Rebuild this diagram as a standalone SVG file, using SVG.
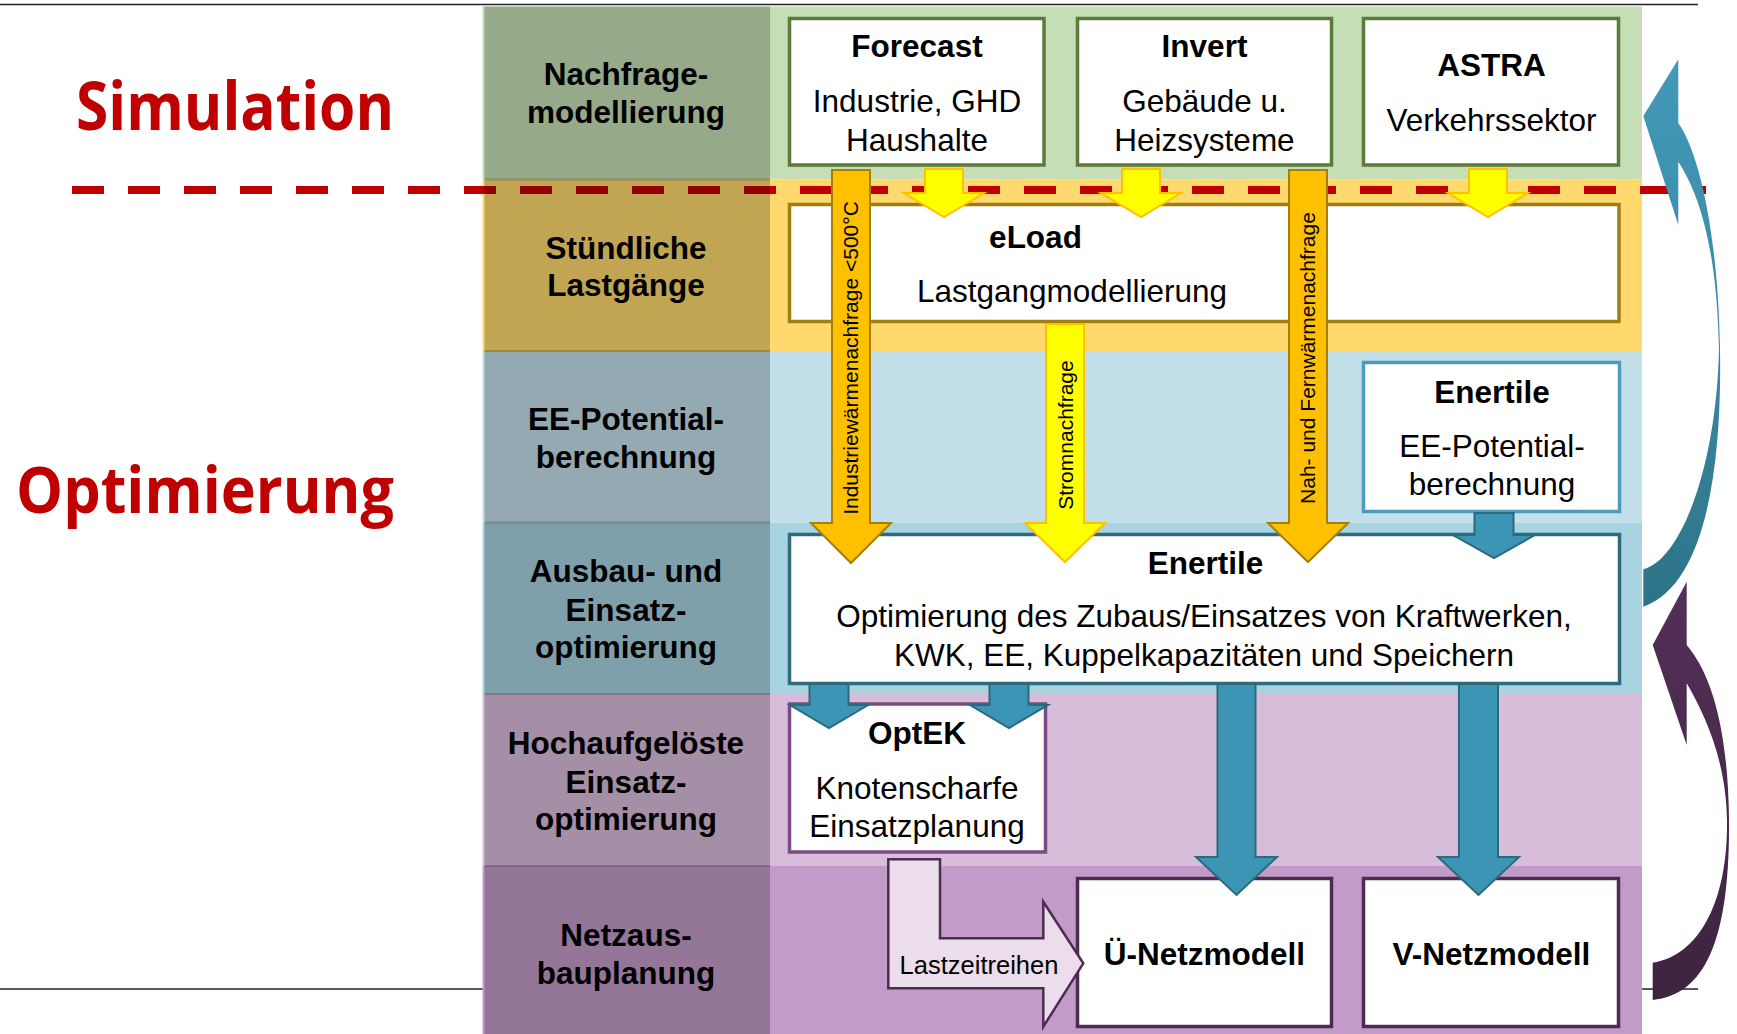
<svg xmlns="http://www.w3.org/2000/svg" width="1737" height="1034" viewBox="0 0 1737 1034">
<defs>
<style>
.lbl{font-family:"Liberation Sans",Arial,sans-serif;font-weight:bold;font-size:31.5px;text-anchor:middle;fill:#000}
.t{font-family:"Liberation Sans",Arial,sans-serif;font-size:31.5px;text-anchor:middle;fill:#000}
.tb{font-family:"Liberation Sans",Arial,sans-serif;font-size:31.5px;font-weight:bold;text-anchor:middle;fill:#000}
.vt{font-family:"Liberation Sans",Arial,sans-serif;font-size:21px;text-anchor:middle;fill:#000}
.lz{font-family:"Liberation Sans",Arial,sans-serif;font-size:25.5px;text-anchor:middle;fill:#000}
.big{font-family:"Open Sans","Noto Sans",sans-serif;font-weight:bold;fill:#C00000}
.box{fill:#fff;stroke-width:3.5}
.sg{stroke:#5B7B3B}
.sy{stroke:#A07F12}
.sb{stroke:#4B9CBD}
.st{stroke:#2F6B7C}
.sp{stroke:#7A4C83}
.sd{stroke:#4D2C52}
.ya{fill:#FFFF00;stroke:#FFC000;stroke-width:2}
.oa{fill:#FFC000;stroke:#A47F0C;stroke-width:2}
.ba{fill:#3C95B4;stroke:#2C6A7B;stroke-width:2}
.sep{stroke:#000;stroke-opacity:0.18;stroke-width:2}
</style>
<linearGradient id="gBlue" x1="0" y1="59" x2="0" y2="607" gradientUnits="userSpaceOnUse">
<stop offset="0" stop-color="#4399B9"/>
<stop offset="0.5" stop-color="#3A8AA6"/>
<stop offset="1" stop-color="#2E7386"/>
</linearGradient>
<linearGradient id="gPurple" x1="0" y1="581" x2="0" y2="1000" gradientUnits="userSpaceOnUse">
<stop offset="0" stop-color="#542F59"/>
<stop offset="1" stop-color="#3D243F"/>
</linearGradient>
</defs>

<!-- frame lines -->
<g id="frame">
<line x1="0" y1="4.5" x2="1698" y2="4.5" stroke="#222" stroke-width="1.5"/>
<line x1="0" y1="989" x2="1698" y2="989" stroke="#222" stroke-width="1.5"/>
</g>

<!-- row bands -->
<g id="bands">
<rect x="482.5" y="6.5" width="1159.5" height="173" fill="#C5DEB5"/>
<rect x="482.5" y="179.5" width="1159.5" height="171.5" fill="#FFD96D"/>
<rect x="482.5" y="351" width="1159.5" height="171.5" fill="#C3DFEA"/>
<rect x="482.5" y="522.5" width="1159.5" height="171.5" fill="#A8D3E0"/>
<rect x="482.5" y="694" width="1159.5" height="172" fill="#D8BDDB"/>
<rect x="482.5" y="866" width="1159.5" height="168" fill="#C39BC8"/>
</g>

<!-- dashed separator -->
<line id="divider" x1="72" y1="190" x2="1706" y2="190" stroke="#C00000" stroke-width="8" stroke-dasharray="32 24"/>

<!-- label column overlay -->
<g id="label-column">
<rect x="484.5" y="6.5" width="285.5" height="1027.5" fill="#000" fill-opacity="0.24"/>
<line class="sep" x1="484.5" y1="179.5" x2="770" y2="179.5"/>
<line class="sep" x1="484.5" y1="351" x2="770" y2="351"/>
<line class="sep" x1="484.5" y1="522.5" x2="770" y2="522.5"/>
<line class="sep" x1="484.5" y1="694" x2="770" y2="694"/>
<line class="sep" x1="484.5" y1="866" x2="770" y2="866"/>
</g>

<g id="row-labels">
<g id="lbl-nachfrage"><text class="lbl" x="626" y="85">Nachfrage-</text><text class="lbl" x="626" y="123">modellierung</text></g>
<g id="lbl-lastgaenge"><text class="lbl" x="626" y="259">Stündliche</text><text class="lbl" x="626" y="296">Lastgänge</text></g>
<g id="lbl-ee"><text class="lbl" x="626" y="430">EE-Potential-</text><text class="lbl" x="626" y="468">berechnung</text></g>
<g id="lbl-ausbau"><text class="lbl" x="626" y="582">Ausbau- und</text><text class="lbl" x="626" y="621">Einsatz-</text><text class="lbl" x="626" y="658">optimierung</text></g>
<g id="lbl-hoch"><text class="lbl" x="626" y="754">Hochaufgelöste</text><text class="lbl" x="626" y="793">Einsatz-</text><text class="lbl" x="626" y="830">optimierung</text></g>
<g id="lbl-netz"><text class="lbl" x="626" y="946">Netzaus-</text><text class="lbl" x="626" y="984">bauplanung</text></g>
</g>

<g id="phase-labels">
<text class="big" x="76" y="129.5" font-size="66" textLength="318" lengthAdjust="spacingAndGlyphs">Simulation</text>
<text class="big" x="16" y="512.5" font-size="65" textLength="378" lengthAdjust="spacingAndGlyphs">Optimierung</text>
</g>

<!-- nodes -->
<g id="node-forecast">
<rect class="box sg" x="789.5" y="18.5" width="254.5" height="146.5"/>
<text class="tb" x="917" y="57">Forecast</text>
<text class="t" x="917" y="112">Industrie, GHD</text>
<text class="t" x="917" y="150.5">Haushalte</text>
</g>
<g id="node-invert">
<rect class="box sg" x="1077.5" y="18.5" width="254" height="146.5"/>
<text class="tb" x="1204.5" y="57">Invert</text>
<text class="t" x="1204.5" y="112">Gebäude u.</text>
<text class="t" x="1204.5" y="150.5">Heizsysteme</text>
</g>
<g id="node-astra">
<rect class="box sg" x="1363.5" y="18.5" width="255" height="146.5"/>
<text class="tb" x="1491.5" y="76">ASTRA</text>
<text class="t" x="1491.5" y="131">Verkehrssektor</text>
</g>
<g id="node-eload">
<rect class="box sy" x="789.5" y="204.5" width="829.5" height="117"/>
<text class="tb" x="1035.5" y="248">eLoad</text>
<text class="t" x="1072" y="301.5">Lastgangmodellierung</text>
</g>
<g id="node-enertile-ee">
<rect class="box sb" x="1363.5" y="362.5" width="256" height="149"/>
<text class="tb" x="1492" y="402.5">Enertile</text>
<text class="t" x="1492" y="456.5">EE-Potential-</text>
<text class="t" x="1492" y="495">berechnung</text>
</g>
<g id="node-enertile">
<rect class="box st" x="789.5" y="534.5" width="830" height="149"/>
<text class="tb" x="1205.5" y="574">Enertile</text>
<text class="t" x="1204" y="627">Optimierung des Zubaus/Einsatzes von Kraftwerken,</text>
<text class="t" x="1204" y="665.5">KWK, EE, Kuppelkapazitäten und Speichern</text>
</g>
<g id="node-optek">
<rect class="box sp" x="789.5" y="704" width="256" height="148"/>
<text class="tb" x="917" y="744">OptEK</text>
<text class="t" x="917" y="799">Knotenscharfe</text>
<text class="t" x="917" y="837">Einsatzplanung</text>
</g>
<g id="node-uenetz">
<rect class="box sd" x="1077.5" y="878.5" width="254" height="148"/>
<text class="tb" x="1204.5" y="965">Ü-Netzmodell</text>
</g>
<g id="node-vnetz">
<rect class="box sd" x="1363.5" y="878.5" width="255" height="148"/>
<text class="tb" x="1491.5" y="965">V-Netzmodell</text>
</g>

<!-- connectors -->
<g id="connectors">
<!-- small yellow arrows into eLoad -->
<path class="ya" d="M925,169 L963,169 L963,193 L984,193 L944,217 L904,193 L925,193 Z"/>
<path class="ya" d="M1122,169 L1160,169 L1160,193 L1181,193 L1141,217 L1101,193 L1122,193 Z"/>
<path class="ya" d="M1469,169 L1507,169 L1507,193 L1528,193 L1488,217 L1448,193 L1469,193 Z"/>
<!-- long orange / yellow arrows into Enertile -->
<path class="oa" d="M832,170 L870,170 L870,523 L891,523 L851,563 L811,523 L832,523 Z"/>
<text class="vt" x="851" y="365" transform="rotate(-90 851 358)">Industriewärmenachfrage &lt;500°C</text>
<path class="ya" d="M1046,324 L1084,324 L1084,523 L1105,523 L1065,562 L1025,523 L1046,523 Z"/>
<text class="vt" x="1065.5" y="442" transform="rotate(-90 1065.5 435)">Stromnachfrage</text>
<path class="oa" d="M1289,170 L1327,170 L1327,523 L1348,523 L1308,562 L1268,523 L1289,523 Z"/>
<text class="vt" x="1308" y="365" transform="rotate(-90 1308 358)">Nah- und Fernwärmenachfrage</text>
<!-- blue arrows -->
<path class="ba" d="M1474.5,513 L1513.5,513 L1513.5,535 L1535,535 L1494,558 L1453,535 L1474.5,535 Z"/>
<path class="ba" d="M809.5,684 L848.5,684 L848.5,705 L868,705 L829,728 L790,705 L809.5,705 Z"/>
<path class="ba" d="M989.5,684 L1028.5,684 L1028.5,705 L1048,705 L1009,728 L970,705 L989.5,705 Z"/>
<path class="ba" d="M1217.5,684 L1255.5,684 L1255.5,857 L1277,857 L1236.5,895 L1196,857 L1217.5,857 Z"/>
<path class="ba" d="M1459,684 L1498,684 L1498,857 L1519,857 L1478.5,895 L1438,857 L1459,857 Z"/>
<!-- Lastzeitreihen bent arrow -->
<path d="M888.3,859.3 L940,859.3 L940,938.3 L1043.3,938.3 L1043.3,901.7 L1083.3,963.3 L1043.3,1026.7 L1043.3,988.3 L888.3,988.3 Z" fill="#EBDDEB" stroke="#4D2C52" stroke-width="2.5"/>
<text class="lz" x="979" y="974">Lastzeitreihen</text>
<!-- feedback curved arrows -->
<path d="M1678.3,59.3 L1643.3,116 L1678.3,225 L1678.3,161.7 C1700,195 1717,250 1719,350 C1716,470 1680,560 1643.3,569.3 L1643.3,606.7 C1705,585 1722,470 1720,350 C1718,230 1698,150 1678.3,123.3 Z" fill="url(#gBlue)"/>
<path d="M1686.7,581.7 L1652.7,645 L1686.7,745 L1686.7,683.3 C1705,715 1726,760 1727,820 C1728,900 1700,955 1652.7,962.7 L1652.7,1000 C1705,995 1730,940 1729,820 C1728,720 1708,670 1686.7,645 Z" fill="url(#gPurple)"/>
</g>
</svg>
